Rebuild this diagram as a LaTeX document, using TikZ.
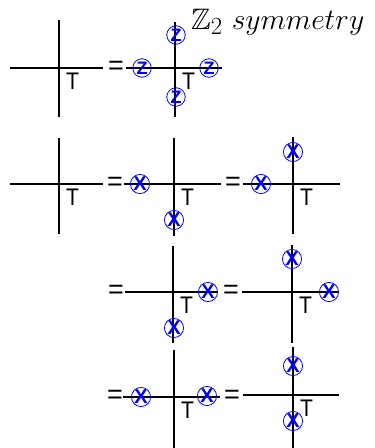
\documentclass[tikz,border=0pt]{standalone}
\usepackage{amsmath,amssymb}
\usepackage{graphicx}
\usepackage{fontspec}
\setsansfont{Liberation Sans}
\usetikzlibrary{positioning}

\begin{document}
\begin{tikzpicture}[
    x=1pt, y=-1pt,
    leg/.style={line width=1.7pt, draw=black},
    zc/.style={circle, draw=blue, line width=0.8pt, text=blue, inner sep=0pt, minimum size=18.5pt, font=\sffamily\bfseries\fontsize{18}{18}\selectfont},
    xc/.style={zc, font=\sffamily\bfseries\fontsize{20}{20}\selectfont},
    tl/.style={inner sep=0pt, font=\sffamily\fontsize{24}{24}\selectfont},
    eq/.style={inner sep=0pt, font=\sffamily\fontsize{27}{27}\selectfont}
]
    \useasboundingbox (0,0) rectangle (375,448);

    % crosses: name/centre x/centre y/left/right/top/bottom
    \foreach \n/\cx/\cy/\l/\r/\t/\b in {
        a1/59/68/10/103/20/117, b1/175/68/126/222/22/117,
        a2/59/184/10/103/138/234, b2/174/184/124/221/138/236, c2/293/184/243/340/137/234,
        b3/173/292/125/217/246/343, c3/292/292/242/338/245/343,
        b4/174/397/123/220/350/448, c4/293/395/243/339/347/448}
    {
        \coordinate (\n) at (\cx,\cy);
        \coordinate (\n-l) at (\l,\cy);
        \coordinate (\n-r) at (\r,\cy);
        \coordinate (\n-t) at (\cx,\t);
        \coordinate (\n-b) at (\cx,\b);
        \draw [leg] (\n-l) -- (\n-r);
        \draw [leg] (\n-t) -- (\n-b);
        \node [tl, below right=5pt and 7pt of \n] (\n-T) {\scalebox{0.88}[1]{T}};
    }

    \node [anchor=base west, inner sep=0pt, font=\fontsize{24.88}{25}\selectfont] (title) at (191,29) {\scalebox{1.19}{$\mathbb{Z}_2\ symmetry$}};

    % equal signs
    \node [eq] (e1) at (116,68) {=};
    \node [eq] (e2) at (115,184) {=};
    \node [eq] (e3) at (233,184) {=};
    \node [eq] (e4) at (116,292) {=};
    \node [eq] (e5) at (231,292) {=};
    \node [eq] (e6) at (115,397) {=};
    \node [eq] (e7) at (232,397) {=};

    % Z insertions
    \node [zc] (z1) at (142,68) {Z};
    \node [zc] (z2) at (209,68) {Z};
    \node [zc] (z3) at (176,35) {Z};
    \node [zc] (z4) at (176,97) {Z};

    % X insertions
    \node [xc] (x1) at (140,184) {X};
    \node [xc] (x2) at (174,220) {X};
    \node [xc] (x3) at (261,184) {X};
    \node [xc] (x4) at (293,152) {X};
    \node [xc] (x5) at (208,292) {X};
    \node [xc] (x6) at (174,328) {X};
    \node [xc] (x7) at (292,259) {X};
    \node [xc] (x8) at (329,292) {X};
    \node [xc] (x9) at (141,397) {X};
    \node [xc] (x10) at (207,396) {X};
    \node [xc] (x11) at (293,366) {X};
    \node [xc] (x12) at (293,421) {X};
\end{tikzpicture}
\end{document}
